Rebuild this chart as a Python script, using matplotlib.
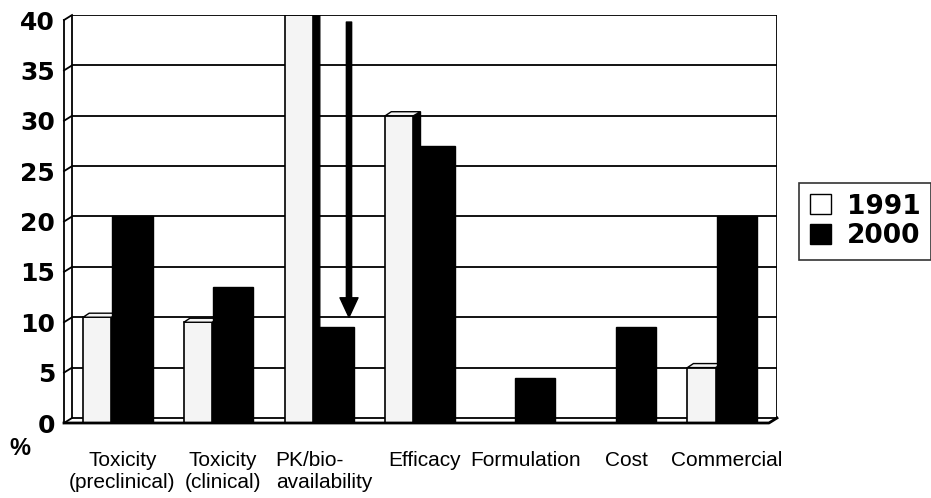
import numpy as np
import matplotlib.pyplot as plt
from matplotlib.patches import Polygon, Patch

# --- data ---
categories = ["Toxicity\n(preclinical)", "Toxicity\n(clinical)", "PK/bio-\navailability",
              "Efficacy", "Formulation", "Cost", "Commercial"]
values_1991 = [10, 9.5, 40, 30, 0, 0, 5]
values_2000 = [20, 13, 9, 27, 4, 9, 20]
y_ticks = [0, 5, 10, 15, 20, 25, 30, 35, 40]
series_labels = ["1991", "2000"]

# fake 3D depth (data units) and colours
depth_x, depth_y = 0.08, 0.5
light = '#f4f4f4'

fig = plt.figure(figsize=(9.31, 4.98), dpi=100)
ax = fig.add_axes([64 / 931, 1 - 423 / 498, 713 / 931, 408 / 498])
ax.set_xlim(-0.5 - depth_x, len(categories) - 0.5)
ax.set_ylim(-depth_y, max(y_ticks))
for s in ax.spines.values():
    s.set_visible(False)

x = np.arange(len(categories))
x_right = len(categories) - 0.5

# back wall: gridlines and edges
ax.hlines(y_ticks, -0.5, x_right, color='black', lw=1.3, zorder=1)
ax.vlines([-0.5, x_right], 0, max(y_ticks), color='black', lw=1.3, zorder=1)
# side wall front edge with slanted ticks
ax.plot([-0.5 - depth_x] * 2, [-depth_y, max(y_ticks) - depth_y], color='black', lw=1.3, clip_on=False)
for v in y_ticks:
    ax.plot([-0.5 - depth_x, -0.5], [v - depth_y, v], color='black', lw=1.3, clip_on=False)
# floor front edge
ax.plot([-0.5 - depth_x, x_right - depth_x, x_right], [-depth_y, -depth_y, 0],
        color='black', lw=2, clip_on=False, zorder=6)

# 1991 bars: light front, dark side and a thin top face
h1991 = [v + depth_y if v > 0 else 0 for v in values_1991]
ax.bar(x - 0.25, h1991, bottom=-depth_y, width=0.28, color=light,
       edgecolor='black', lw=1.2, zorder=3)
for xi, v in zip(x, values_1991):
    if v <= 0:
        continue
    ax.add_patch(Polygon([(xi - 0.11, -depth_y), (xi - 0.11, v), (xi - 0.04, v + 0.4), (xi - 0.04, 0)],
                         closed=True, fc='black', ec='black', lw=1, zorder=2))
    ax.add_patch(Polygon([(xi - 0.39, v), (xi - 0.33, v + 0.4), (xi - 0.04, v + 0.4), (xi - 0.11, v)],
                         closed=True, fc=light, ec='black', lw=1, zorder=3))

# 2000 bars: solid black
h2000 = [v + depth_y if v > 0 else 0 for v in values_2000]
ax.bar(x + 0.10, h2000, bottom=-depth_y, width=0.40, color='black',
       edgecolor='black', lw=1, zorder=4)

# arrow from 1991 to 2000 on PK/bio-availability
pk = categories.index("PK/bio-\navailability")
ax.annotate('', xy=(pk + 0.25, values_2000[pk] + 1), xytext=(pk + 0.25, values_1991[pk] - 0.7),
            arrowprops=dict(facecolor='black', edgecolor='black', width=3.8,
                            headwidth=13, headlength=14, shrink=0), zorder=5)

# ticks
ax.set_yticks(np.array(y_ticks) - depth_y, [str(v) for v in y_ticks])
ax.tick_params(axis='y', length=0, pad=6.5)
for lab in ax.get_yticklabels():
    lab.set_fontsize(18)
    lab.set_fontfamily('DejaVu Sans')
    lab.set_fontweight('bold')

ax.set_xticks(x, categories)
ax.tick_params(axis='x', length=0, pad=20)
for lab in ax.get_xticklabels():
    lab.set_fontsize(15)
    lab.set_fontfamily('Liberation Sans')
    lab.set_linespacing(1.2)
ax.get_xticklabels()[pk].set_multialignment('left')

fig.text(20 / 931, 1 - 448 / 498, '%', ha='center', va='center', fontsize=17,
         fontweight='bold', family='Liberation Sans')

handles = [Patch(facecolor='white', edgecolor='black', label=series_labels[0]),
           Patch(facecolor='black', edgecolor='black', label=series_labels[1])]
leg = fig.legend(handles=handles, loc='center left', bbox_to_anchor=(799 / 931, 1 - 221.5 / 498),
                 frameon=True, fancybox=False, edgecolor='black',
                 prop={'family': 'DejaVu Sans', 'weight': 'bold', 'size': 19},
                 handlelength=0.8, handleheight=0.8, handletextpad=0.6,
                 labelspacing=0.15, borderpad=0.4, borderaxespad=0)
leg.get_frame().set_linewidth(1.2)

fig.savefig('out.png', dpi=100)
